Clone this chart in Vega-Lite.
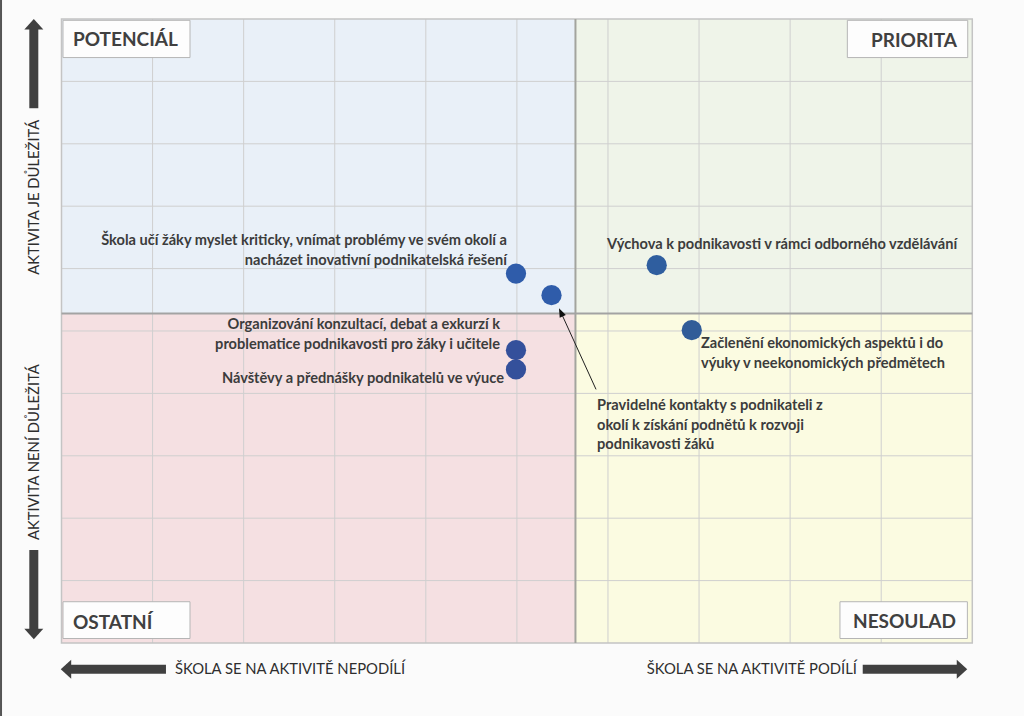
{
  "$schema": "https://vega.github.io/schema/vega-lite/v6.json",
  "width": 1024,
  "height": 716,
  "autosize": {"type": "none"},
  "padding": 0,
  "background": "#fbfbfb",
  "config": {"view": {"stroke": null}, "text": {"font": "Lato"}},
  "datasets": {
    "quadrants": [
      {"q": "TL", "x": 0, "x2": 5.643, "y": 5.281, "y2": 10},
      {"q": "TR", "x": 5.643, "x2": 10, "y": 5.281, "y2": 10},
      {"q": "BL", "x": 0, "x2": 5.643, "y": 0, "y2": 5.281},
      {"q": "BR", "x": 5.643, "x2": 10, "y": 0, "y2": 5.281}
    ],
    "vgrid": [
      {"x": 1, "y": 0, "y2": 10}, {"x": 2, "y": 0, "y2": 10}, {"x": 3, "y": 0, "y2": 10},
      {"x": 4, "y": 0, "y2": 10}, {"x": 5, "y": 0, "y2": 10}, {"x": 6, "y": 0, "y2": 10},
      {"x": 7, "y": 0, "y2": 10}, {"x": 8, "y": 0, "y2": 10}, {"x": 9, "y": 0, "y2": 10}
    ],
    "hgrid": [
      {"y": 1, "x": 0, "x2": 10}, {"y": 2, "x": 0, "x2": 10}, {"y": 3, "x": 0, "x2": 10},
      {"y": 4, "x": 0, "x2": 10}, {"y": 5, "x": 0, "x2": 10}, {"y": 6, "x": 0, "x2": 10},
      {"y": 7, "x": 0, "x2": 10}, {"y": 8, "x": 0, "x2": 10}, {"y": 9, "x": 0, "x2": 10}
    ],
    "frame": [{"x": 0, "x2": 10, "y": 0, "y2": 10}],
    "vsplit": [{"x": 5.643, "y": 0, "y2": 10}],
    "hsplit": [{"y": 5.281, "x": 0, "x2": 10}],
    "boxes": [
      {"name": "POTENCIÁL", "x": 0.0165, "x2": 1.411, "y": 9.382, "y2": 9.979},
      {"name": "PRIORITA", "x": 8.628, "x2": 9.95, "y": 9.382, "y2": 9.979},
      {"name": "OSTATNÍ", "x": 0.0165, "x2": 1.411, "y": 0.072, "y2": 0.6615},
      {"name": "NESOULAD", "x": 8.547, "x2": 9.946, "y": 0.072, "y2": 0.6615}
    ],
    "qtext": [
      {"text": "POTENCIÁL", "side": "left", "x": 0.126, "y": 9.659},
      {"text": "PRIORITA", "side": "right", "x": 9.832, "y": 9.646},
      {"text": "OSTATNÍ", "side": "left", "x": 0.126, "y": 0.328},
      {"text": "NESOULAD", "side": "right", "x": 9.821, "y": 0.336}
    ],
    "activities": [
      {"name": "Škola učí žáky myslet kriticky", "q": "TL", "x": 4.99, "y": 5.92},
      {"name": "Pravidelné kontakty s podnikateli", "q": "TL", "x": 5.38, "y": 5.574},
      {"name": "Výchova k podnikavosti", "q": "TR", "x": 6.535, "y": 6.055},
      {"name": "Začlenění ekonomických aspektů", "q": "BR", "x": 6.92, "y": 5.014},
      {"name": "Organizování konzultací", "q": "BL", "x": 4.99, "y": 4.693},
      {"name": "Návštěvy a přednášky", "q": "BL", "x": 4.99, "y": 4.384}
    ],
    "labels": [
      {"side": "right", "x": 4.891, "y": 6.439, "text": "Škola učí žáky myslet kriticky, vnímat problémy ve svém okolí a\nnacházet inovativní podnikatelská řešení"},
      {"side": "left", "x": 5.989, "y": 6.375, "text": "Výchova k podnikavosti v rámci odborného vzdělávání"},
      {"side": "right", "x": 4.815, "y": 5.094, "text": "Organizování konzultací, debat a exkurzí k\nproblematice podnikavosti pro žáky i učitele"},
      {"side": "right", "x": 4.858, "y": 4.229, "text": "Návštěvy a přednášky podnikatelů ve výuce"},
      {"side": "left", "x": 7.021, "y": 4.789, "text": "Začlenění ekonomických aspektů i do\nvýuky v neekonomických předmětech"},
      {"side": "left", "x": 5.88, "y": 3.796, "text": "Pravidelné kontakty s podnikateli z\nokolí k získání podnětů k rozvoji\npodnikavosti žáků"}
    ],
    "leader": [{"x": 5.869, "y": 4.064, "x2": 5.483, "y2": 5.3}],
    "shafts": [
      {"dir": "up", "x": -0.304, "y": 8.57, "x2": -0.304, "y2": 9.915},
      {"dir": "down", "x": -0.304, "y": 1.49, "x2": -0.304, "y2": 0.144},
      {"dir": "left", "x": 1.147, "y": -0.4196, "x2": 0.049, "y2": -0.4196},
      {"dir": "right", "x": 8.797, "y": -0.4196, "x2": 9.887, "y2": -0.4196}
    ],
    "heads": [
      {"dir": "up", "x": -0.304, "y": 9.915},
      {"dir": "down", "x": -0.304, "y": 0.144},
      {"dir": "left", "x": 0.049, "y": -0.4196},
      {"dir": "right", "x": 9.887, "y": -0.4196}
    ],
    "vtext": [
      {"text": "AKTIVITA JE DŮLEŽITÁ", "x": -0.291, "y": 7.144},
      {"text": "AKTIVITA NENÍ DŮLEŽITÁ", "x": -0.291, "y": 3.059}
    ],
    "htext": [
      {"text": "ŠKOLA SE NA AKTIVITĚ NEPODÍLÍ", "side": "left", "x": 1.246, "y": -0.4325},
      {"text": "ŠKOLA SE NA AKTIVITĚ PODÍLÍ", "side": "right", "x": 8.734, "y": -0.4325}
    ],
    "edge": [{"x": -0.664, "y": -1.1699, "y2": 10.3045}]
  },
  "encoding": {
    "x": {"field": "x", "type": "quantitative", "scale": {"domain": [-0.6752, 10.5677], "nice": false, "zero": false}, "axis": null},
    "y": {"field": "y", "type": "quantitative", "scale": {"domain": [-1.1699, 10.3045], "nice": false, "zero": false}, "axis": null}
  },
  "layer": [
    {
      "data": {"name": "quadrants"},
      "mark": {"type": "rect", "strokeWidth": 0},
      "encoding": {
        "x2": {"field": "x2"}, "y2": {"field": "y2"},
        "fill": {"field": "q", "type": "nominal", "legend": null,
          "scale": {"domain": ["TL", "TR", "BL", "BR"], "range": ["#e9f0f8", "#eff4e9", "#f5e0e2", "#fbfbe1"]}}
      }
    },
    {
      "data": {"name": "vgrid"},
      "mark": {"type": "rule", "color": "#cfcfcf", "strokeWidth": 1},
      "encoding": {"y2": {"field": "y2"}}
    },
    {
      "data": {"name": "hgrid"},
      "mark": {"type": "rule", "color": "#cfcfcf", "strokeWidth": 1},
      "encoding": {"x2": {"field": "x2"}}
    },
    {
      "data": {"name": "frame"},
      "mark": {"type": "rect", "fill": null, "filled": false, "stroke": "#c4c4c4", "strokeWidth": 1.5},
      "encoding": {"x2": {"field": "x2"}, "y2": {"field": "y2"}}
    },
    {
      "data": {"name": "vsplit"},
      "mark": {"type": "rule", "color": "#a3a49e", "strokeWidth": 2},
      "encoding": {"y2": {"field": "y2"}}
    },
    {
      "data": {"name": "hsplit"},
      "mark": {"type": "rule", "color": "#a3a3a3", "strokeWidth": 2},
      "encoding": {"x2": {"field": "x2"}}
    },
    {
      "data": {"name": "boxes"},
      "mark": {"type": "rect", "fill": "#fdfdfd", "stroke": "#b5b5b5", "strokeWidth": 1},
      "encoding": {"x2": {"field": "x2"}, "y2": {"field": "y2"}}
    },
    {
      "data": {"name": "qtext"},
      "transform": [{"filter": "datum.side === 'left'"}],
      "mark": {"type": "text", "align": "left", "baseline": "middle", "fontSize": 19, "fontWeight": "bold", "color": "#404040"},
      "encoding": {"text": {"field": "text"}}
    },
    {
      "data": {"name": "qtext"},
      "transform": [{"filter": "datum.side === 'right'"}],
      "mark": {"type": "text", "align": "right", "baseline": "middle", "fontSize": 19, "fontWeight": "bold", "color": "#404040"},
      "encoding": {"text": {"field": "text"}}
    },
    {
      "data": {"name": "leader"},
      "mark": {"type": "rule", "color": "#202020", "strokeWidth": 1},
      "encoding": {"x2": {"field": "x2"}, "y2": {"field": "y2"}}
    },
    {
      "data": {"name": "leader"},
      "mark": {"type": "point", "shape": "M0,-1L0.75,1L-0.75,1Z", "filled": true, "size": 81, "angle": 335.4, "color": "#101010", "opacity": 1},
      "encoding": {"x": {"field": "x2", "type": "quantitative"}, "y": {"field": "y2", "type": "quantitative"}}
    },
    {
      "data": {"name": "activities"},
      "mark": {"type": "circle", "size": 410, "opacity": 1},
      "encoding": {
        "color": {"field": "q", "type": "nominal", "legend": null,
          "scale": {"domain": ["TL", "TR", "BL", "BR"], "range": ["#2f5caa", "#2f5e9f", "#34509b", "#315c98"]}}
      }
    },
    {
      "data": {"name": "labels"},
      "transform": [{"filter": "datum.side === 'left'"}],
      "mark": {"type": "text", "align": "left", "baseline": "middle", "fontSize": 14.6, "fontWeight": "bold", "color": "#3c3c3c", "lineBreak": "\n", "lineHeight": 19.5},
      "encoding": {"text": {"field": "text"}}
    },
    {
      "data": {"name": "labels"},
      "transform": [{"filter": "datum.side === 'right'"}],
      "mark": {"type": "text", "align": "right", "baseline": "middle", "fontSize": 14.6, "fontWeight": "bold", "color": "#3c3c3c", "lineBreak": "\n", "lineHeight": 19.5},
      "encoding": {"text": {"field": "text"}}
    },
    {
      "data": {"name": "shafts"},
      "mark": {"type": "rule", "color": "#404040", "strokeWidth": 9, "strokeCap": "butt"},
      "encoding": {"x2": {"field": "x2"}, "y2": {"field": "y2"}}
    },
    {
      "data": {"name": "heads"},
      "transform": [{"filter": "datum.dir === 'up'"}],
      "mark": {"type": "point", "shape": "M0,-0.55L1,0.55L-1,0.55Z", "filled": true, "size": 361, "angle": 0, "color": "#404040", "opacity": 1}
    },
    {
      "data": {"name": "heads"},
      "transform": [{"filter": "datum.dir === 'down'"}],
      "mark": {"type": "point", "shape": "M0,-0.55L1,0.55L-1,0.55Z", "filled": true, "size": 361, "angle": 180, "color": "#404040", "opacity": 1}
    },
    {
      "data": {"name": "heads"},
      "transform": [{"filter": "datum.dir === 'left'"}],
      "mark": {"type": "point", "shape": "M0,-0.55L1,0.55L-1,0.55Z", "filled": true, "size": 361, "angle": 270, "color": "#404040", "opacity": 1}
    },
    {
      "data": {"name": "heads"},
      "transform": [{"filter": "datum.dir === 'right'"}],
      "mark": {"type": "point", "shape": "M0,-0.55L1,0.55L-1,0.55Z", "filled": true, "size": 361, "angle": 90, "color": "#404040", "opacity": 1}
    },
    {
      "data": {"name": "vtext"},
      "mark": {"type": "text", "align": "center", "baseline": "middle", "angle": 270, "fontSize": 14.8, "color": "#2e2e2e"},
      "encoding": {"text": {"field": "text"}}
    },
    {
      "data": {"name": "htext"},
      "transform": [{"filter": "datum.side === 'left'"}],
      "mark": {"type": "text", "align": "left", "baseline": "middle", "fontSize": 14.8, "color": "#2e2e2e"},
      "encoding": {"text": {"field": "text"}}
    },
    {
      "data": {"name": "htext"},
      "transform": [{"filter": "datum.side === 'right'"}],
      "mark": {"type": "text", "align": "right", "baseline": "middle", "fontSize": 14.8, "color": "#2e2e2e"},
      "encoding": {"text": {"field": "text"}}
    },
    {
      "data": {"name": "edge"},
      "mark": {"type": "rule", "color": "#555555", "strokeWidth": 2},
      "encoding": {"y2": {"field": "y2"}}
    }
  ]
}
